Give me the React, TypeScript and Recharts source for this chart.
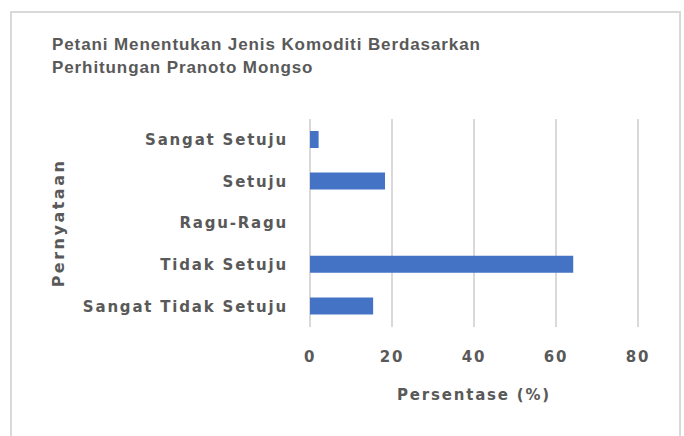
import { Bar, BarChart, CartesianGrid, XAxis, YAxis } from 'recharts'

const categories = ['Sangat Setuju', 'Setuju', 'Ragu-Ragu', 'Tidak Setuju', 'Sangat Tidak Setuju']
const persentase = [2.1, 18.3, 0, 64.2, 15.4]
const xTicks = [0, 20, 40, 60, 80]

const data = categories.map((name, i) => ({ name, value: persentase[i] }))

const textColor = '#595959'
const axisFont = { fontFamily: '"DejaVu Sans", sans-serif', fontWeight: 700, fontSize: 15, letterSpacing: 1.8 }

export default function App() {
  return (
    <div style={{ position: 'absolute', left: 0, top: 0, width: 684, height: 436, overflow: 'hidden', background: '#fff' }}>
      <div style={{ position: 'absolute', left: 10, top: 11, width: 667, height: 440, border: '2px solid #d9d9d9' }} />
      <div
        style={{
          position: 'absolute',
          left: 52,
          top: 33,
          fontFamily: '"Liberation Sans", Arial, sans-serif',
          fontWeight: 700,
          fontSize: 17,
          lineHeight: '23px',
          letterSpacing: 0.9,
          color: textColor,
        }}
      >
        Petani Menentukan Jenis Komoditi Berdasarkan
        <br />
        Perhitungan Pranoto Mongso
      </div>
      <div style={{ position: 'absolute', left: 0, top: 0 }}>
        <BarChart width={684} height={436} data={data} layout="vertical" margin={{ top: 119, right: 46, bottom: 0, left: 0 }}>
          <CartesianGrid horizontal={false} stroke="#d9d9d9" strokeWidth={2} />
          <XAxis
            type="number"
            domain={[0, 80]}
            ticks={xTicks}
            axisLine={false}
            tickLine={false}
            tickSize={0}
            tickMargin={24}
            height={109}
            tick={{ fill: textColor, ...axisFont }}
            label={{
              content: (props: any) => {
                const vb = props.viewBox
                return (
                  <text
                    x={vb.x + vb.width / 2}
                    y={vb.y + 68}
                    textAnchor="middle"
                    dominantBaseline="central"
                    fill={textColor}
                    style={{ ...axisFont, fontSize: 15 }}
                  >
                    Persentase (%)
                  </text>
                )
              },
            }}
          />
          <YAxis
            type="category"
            dataKey="name"
            width={310}
            axisLine={false}
            tickLine={false}
            tickSize={0}
            tickMargin={22}
            tick={{ fill: textColor, ...axisFont }}
            label={{
              content: (props: any) => {
                const vb = props.viewBox
                const cx = vb.x + 58
                const cy = vb.y + vb.height / 2
                return (
                  <text
                    x={cx}
                    y={cy}
                    transform={`rotate(-90 ${cx} ${cy})`}
                    textAnchor="middle"
                    dominantBaseline="central"
                    fill={textColor}
                    style={{ ...axisFont, fontSize: 16, letterSpacing: 2.5 }}
                  >
                    Pernyataan
                  </text>
                )
              },
            }}
          />
          <Bar dataKey="value" fill="#4472c4" barSize={17} isAnimationActive={false} />
        </BarChart>
      </div>
    </div>
  )
}
